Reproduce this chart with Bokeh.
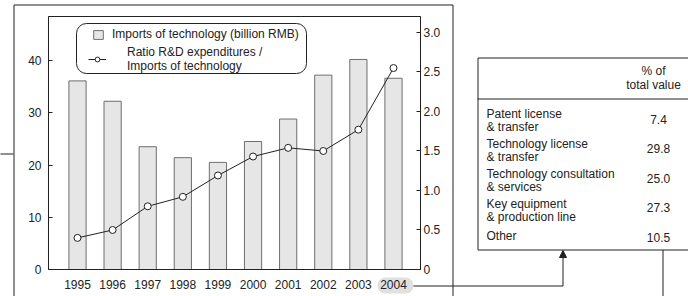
from bokeh.plotting import figure
from bokeh.models import (Range1d, LinearAxis, FixedTicker, CustomJSTickFormatter, Legend,
                          LegendItem, BoxAnnotation, Arrow, NormalHead, LabelSet, ColumnDataSource)
from bokeh.core.properties import value
from bokeh.embed import file_html
from bokeh.resources import INLINE

# ---------------- data ----------------
years = [1995, 1996, 1997, 1998, 1999, 2000, 2001, 2002, 2003, 2004]
imports_bn_rmb = [36.1, 32.2, 23.5, 21.4, 20.5, 24.5, 28.8, 37.2, 40.2, 36.6]
ratio_rd_to_imports = [0.40, 0.50, 0.80, 0.92, 1.19, 1.43, 1.54, 1.50, 1.77, 2.55]
left_ticks = [0, 10, 20, 30, 40]
right_ticks = [0, 0.5, 1.0, 1.5, 2.0, 2.5, 3.0]
highlight_year = 2004
table_header = ["% of", "total value"]
table_categories = ["Patent license\n& transfer", "Technology license\n& transfer",
                    "Technology consultation\n& services", "Key equipment\n& production line",
                    "Other"]
table_shares = [7.4, 29.8, 25.0, 27.3, 10.5]
legend_bar_label = "Imports of technology (billion RMB)"
legend_line_label = "Ratio R&D expenditures /\nImports of technology"

# ---------------- layout constants ----------------
W, H = 688, 296
FONT = "Liberation Sans"
FS = "12px"
INK = "#222222"

# chart area in data units (frame spans the whole canvas)
X0, X1 = 1994.174, 2004.769      # chart left / right edges (years)
YTOP = 48.42                      # chart top (left axis units)
RTOP = 3.2025                     # chart top (right axis units)


def sx(cx):
    return cx


def sy(cy):
    return H - cy


p = figure(width=W, height=H, output_backend="svg", toolbar_location=None,
           x_range=Range1d(1992.807, 2012.402), y_range=Range1d(-5.167, 51.483),
           x_axis_location=None, y_axis_location=None, min_border=0)
p.grid.visible = False
p.outline_line_color = None
p.background_fill_color = "white"
p.border_fill_color = "white"
p.extra_y_ranges = {"ratio": Range1d(-0.3418, 3.405)}


def style_axis(ax, tick_in, standoff):
    ax.major_tick_in = tick_in
    ax.major_tick_out = 0
    ax.minor_tick_line_color = None
    ax.axis_line_color = INK
    ax.major_tick_line_color = INK if tick_in else None
    ax.major_label_standoff = standoff
    ax.major_label_text_font = FONT
    ax.major_label_text_font_size = FS
    ax.major_label_text_color = INK


xa = LinearAxis(ticker=FixedTicker(ticks=years), fixed_location=0, bounds=(X0, X1))
style_axis(xa, 0, 10)
p.add_layout(xa, "below")

ya = LinearAxis(ticker=FixedTicker(ticks=left_ticks), fixed_location=X0, bounds=(0, YTOP))
style_axis(ya, 4, 7)
p.add_layout(ya, "left")

ra = LinearAxis(y_range_name="ratio", ticker=FixedTicker(ticks=right_ticks), fixed_location=X1,
                bounds=(0, RTOP),
                formatter=CustomJSTickFormatter(code="return tick == 0 ? '0' : tick.toFixed(1);"))
style_axis(ra, 4, 3)
p.add_layout(ra, "right")

# chart frame
p.add_layout(BoxAnnotation(left=X0, right=X1, bottom=0, top=YTOP, fill_alpha=0,
                           line_color=INK, line_alpha=1, line_width=1))

# highlight behind the 2004 tick label
p.add_layout(BoxAnnotation(left=sx(377), right=sx(413), top=sy(277), bottom=sy(293),
                           left_units="screen", right_units="screen", top_units="screen",
                           bottom_units="screen", border_radius=8, fill_color="#e0e0e0",
                           fill_alpha=1, line_alpha=0, level="underlay"))

# glyphs
bars = p.vbar(x=years, top=imports_bn_rmb, bottom=0, width=0.49, fill_color="#e6e6e6",
              line_color="#6e6e6e", line_width=1)
ln = p.line(years, ratio_rd_to_imports, y_range_name="ratio", line_color=INK, line_width=1)
pts = p.scatter(years, ratio_rd_to_imports, y_range_name="ratio", size=7, fill_color="white",
                line_color=INK, line_width=1)

# rounded legend frame
p.add_layout(BoxAnnotation(left=sx(76), right=sx(306), top=sy(23), bottom=sy(73),
                           left_units="screen", right_units="screen", top_units="screen",
                           bottom_units="screen", border_radius=10, fill_alpha=0,
                           line_color=INK, line_alpha=1, line_width=1))


def make_legend(item, loc, gw, gh, standoff):
    lg = Legend(items=[item], location=loc, padding=0, margin=0, spacing=0,
                border_line_alpha=0, background_fill_alpha=0, glyph_width=gw,
                glyph_height=gh, label_standoff=standoff, label_height=11,
                label_text_font=FONT, label_text_font_size=FS, label_text_color=INK,
                label_text_line_height=1.0)
    p.add_layout(lg)


make_legend(LegendItem(label=legend_bar_label, renderers=[bars]), (92, 255), 12, 11, 8)
make_legend(LegendItem(label=legend_line_label, renderers=[ln, pts]), (88, 223), 18, 12, 21)


# outer frame, table frame, connectors
def box(l, r, t, b):
    p.add_layout(BoxAnnotation(left=sx(l), right=sx(r), top=sy(t), bottom=sy(b),
                               left_units="screen", right_units="screen", top_units="screen",
                               bottom_units="screen", fill_alpha=0, line_color=INK,
                               line_alpha=1, line_width=1))


def seg(x0, y0, x1, y1, head=None):
    p.add_layout(Arrow(start=None, end=head, x_start=sx(x0), y_start=sy(y0), x_end=sx(x1),
                       y_end=sy(y1), start_units="screen", end_units="screen",
                       line_color=INK, line_width=1))


box(13.5, 452.5, 4.5, 330)
box(477.5, 720, 57.5, 249.5)
seg(477, 98.5, 720, 98.5)
seg(-5, 153.5, 13, 153.5)
seg(413, 285.5, 562.5, 285.5)
seg(562.5, 285.5, 562.5, 250, NormalHead(size=7, fill_color=INK, line_color=INK))
seg(662.5, 249.5, 662.5, 330)

# table text
txt_x, txt_y, txt, align = [], [], [], []
for k, h in enumerate(table_header):
    txt_x.append(653)
    txt_y.append(70 + 14 * k)
    txt.append(h)
    align.append("center")
for i, (cat, val) in enumerate(zip(table_categories, table_shares)):
    lines = cat.split("\n")
    first = 113 + 30 * i
    for j, line_txt in enumerate(lines):
        txt_x.append(486)
        txt_y.append(first + 13.5 * j + (2 if len(lines) == 1 else 0))
        txt.append(line_txt)
        align.append("left")
    txt_x.append(658)
    txt_y.append(118.5 + 29.6 * i)
    txt.append(f"{val:.1f}")
    align.append("center")

src = ColumnDataSource(dict(x=[sx(v) for v in txt_x], y=[sy(v) for v in txt_y], t=txt, a=align))
p.add_layout(LabelSet(x="x", y="y", text="t", source=src, x_units="screen", y_units="screen",
                      text_align="a", text_baseline="middle", text_font=value(FONT),
                      text_font_size=value(FS), text_color=INK))

open("out.html", "w").write(file_html(p, INLINE))
